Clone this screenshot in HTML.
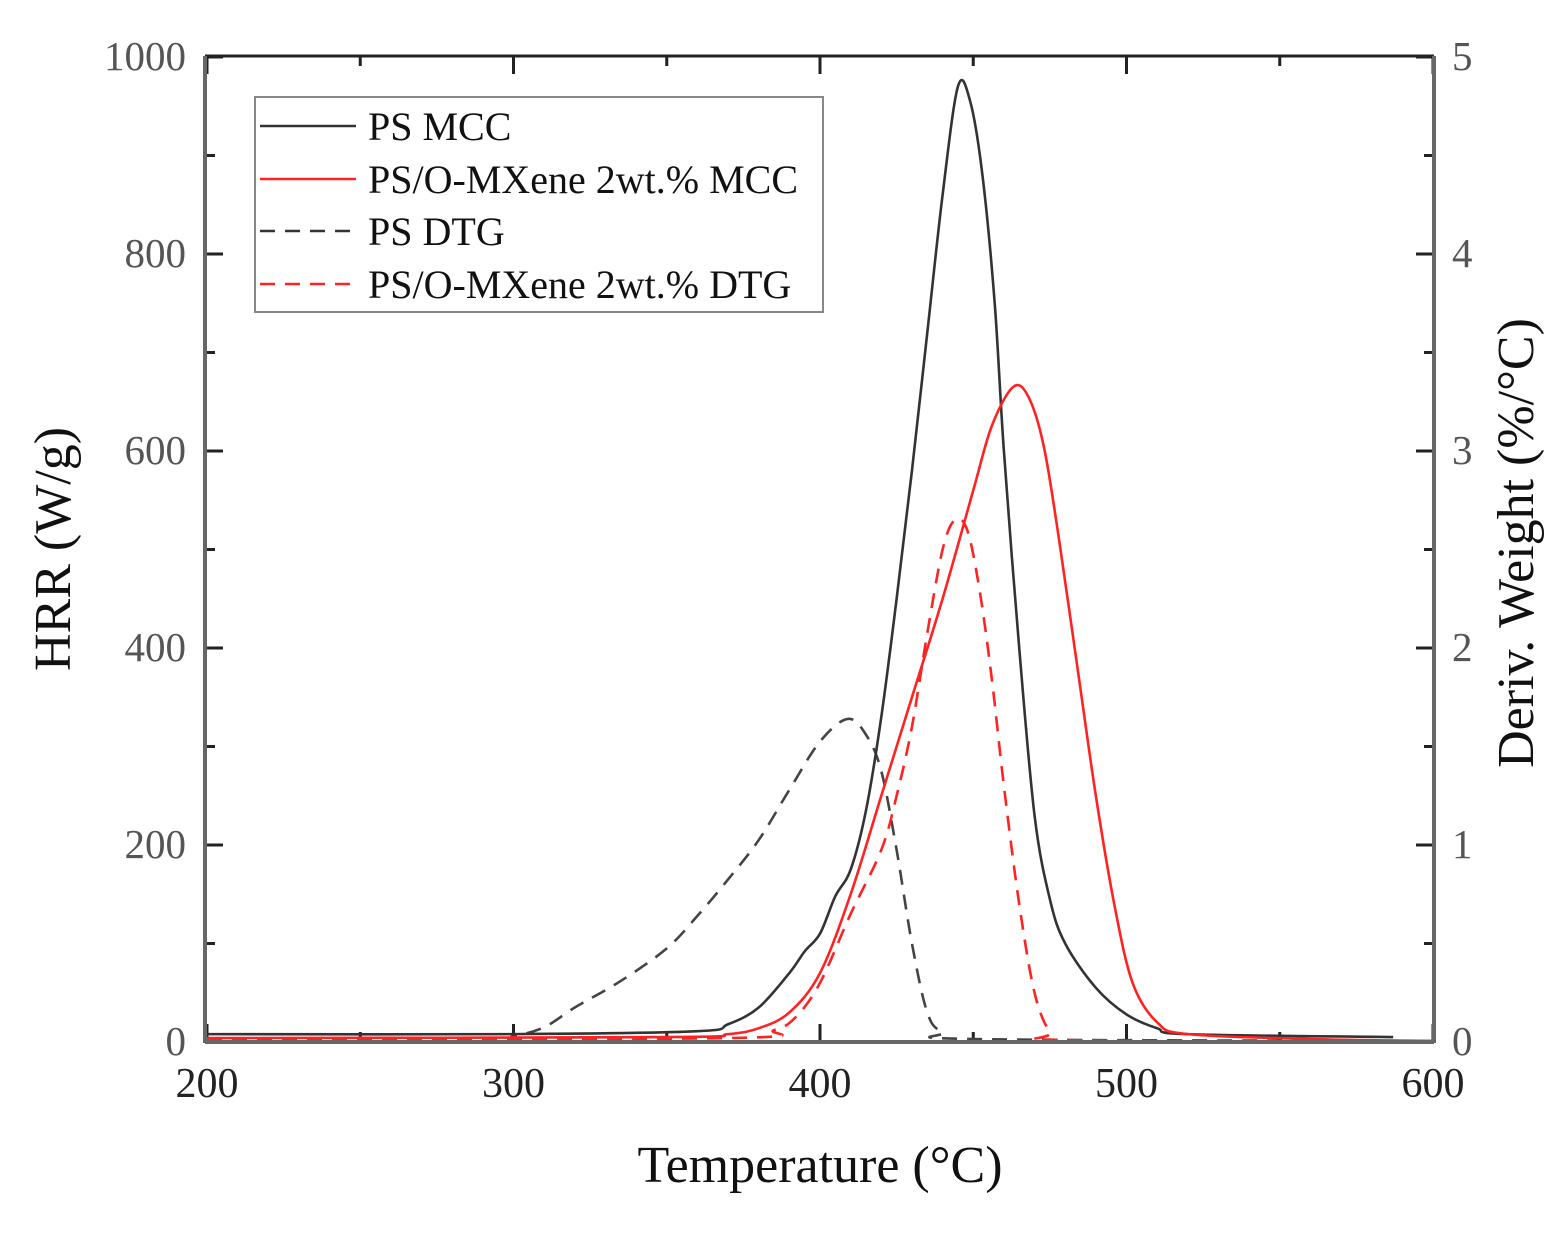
<!DOCTYPE html>
<html><head><meta charset="utf-8"><style>
html,body{margin:0;padding:0;background:#fff;}
svg{display:block;font-family:"Liberation Serif",serif;}
</style></head><body>
<svg id="s" width="1556" height="1234" viewBox="0 0 1556 1234" xmlns="http://www.w3.org/2000/svg">
<rect width="1556" height="1234" fill="#fff"/>
<g id="ticks" stroke="#222" stroke-width="3"></g>
<g id="curves" fill="none" stroke-width="2.6"></g>
<line x1="205" y1="56" x2="1434" y2="56" stroke="#222" stroke-width="3"/>
<line x1="205" y1="1042" x2="1434" y2="1042" stroke="#666" stroke-width="4"/>
<line x1="205" y1="56" x2="205" y2="1043" stroke="#666" stroke-width="4"/>
<line x1="1434" y1="56" x2="1434" y2="1043" stroke="#666" stroke-width="4"/>
<g font-size="41" fill="#555" id="labels"></g>
<text x="820" y="1182" font-size="52" text-anchor="middle" fill="#111">Temperature (°C)</text>
<text transform="translate(70,549) rotate(-90)" font-size="52" text-anchor="middle" fill="#111">HRR (W/g)</text>
<text transform="translate(1533,543) rotate(-90)" font-size="52" text-anchor="middle" fill="#111">Deriv. Weight (%/°C)</text>
<rect x="255" y="97" width="568" height="215" fill="#fff" stroke="#888" stroke-width="2"/>
<g font-size="40" fill="#111">
<line x1="260" y1="126" x2="356" y2="126" stroke="#333" stroke-width="2.6"/>
<text x="368" y="140">PS MCC</text>
<line x1="260" y1="179" x2="356" y2="179" stroke="#f22" stroke-width="2.6"/>
<text x="368" y="193">PS/O-MXene 2wt.% MCC</text>
<line x1="260" y1="231" x2="356" y2="231" stroke="#333" stroke-width="2.6" stroke-dasharray="15,10"/>
<text x="368" y="245">PS DTG</text>
<line x1="260" y1="284" x2="356" y2="284" stroke="#f22" stroke-width="2.6" stroke-dasharray="15,10"/>
<text x="368" y="298">PS/O-MXene 2wt.% DTG</text>
</g>
</svg>
<script>
const NS="http://www.w3.org/2000/svg";
const X=t=>207+(t-200)*3.065, Y=v=>1042-v*0.985;
function el(p,tag,a,txt){const e=document.createElementNS(NS,tag);for(const k in a)e.setAttribute(k,a[k]);if(txt!=null)e.textContent=txt;p.appendChild(e);return e;}
const tk=document.getElementById('ticks'),lb=document.getElementById('labels');
for(let t=200;t<=600;t+=50){const x=X(t),L=(t%100==0)?18:10;
 el(tk,'line',{x1:x,y1:1042,x2:x,y2:1042-L});el(tk,'line',{x1:x,y1:56,x2:x,y2:56+L});
 if(t%100==0)el(lb,'text',{x:x,y:1097,'text-anchor':'middle','font-size':42,fill:'#222'},t);}
for(let v=0;v<=1000;v+=100){const y=Y(v),L=(v%200==0)?18:10;
 el(tk,'line',{x1:205,y1:y,x2:205+L,y2:y});el(tk,'line',{x1:1434,y1:y,x2:1434-L,y2:y});
 if(v%200==0){el(lb,'text',{x:186,y:y+13,'text-anchor':'end'},v);el(lb,'text',{x:1452,y:y+13},v/200);}}
function path(pts){const P=pts.map(p=>[X(p[0]),Y(p[1])]);let d='M'+P[0][0]+','+P[0][1];
 for(let i=0;i<P.length-1;i++){const p0=P[Math.max(0,i-1)],p1=P[i],p2=P[i+1],p3=P[Math.min(P.length-1,i+2)];
 d+=' C'+(p1[0]+(p2[0]-p0[0])/6)+','+(p1[1]+(p2[1]-p0[1])/6)+' '+(p2[0]-(p3[0]-p1[0])/6)+','+(p2[1]-(p3[1]-p1[1])/6)+' '+p2[0]+','+p2[1];}return d;}
const cv=document.getElementById('curves');
const psm=[[200,8],[300,8],[360,11],[370,18],[380,35],[390,70],[395,92],[400,110],[405,148],[410,175],[415,235],[420,330],[425,450],[430,580],[435,720],[440,860],[445,970],[449,955],[453,880],[457,750],[460,600],[465,400],[470,230],[475,145],[480,100],[490,55],[500,28],[510,14],[520,8],[587,5]];
const rm=[[200,4],[350,5],[370,8],[380,14],[390,30],[400,70],[410,150],[420,250],[430,350],[440,450],[450,560],[456,625],[463,665],[468,655],[473,605],[478,510],[484,380],[490,250],[496,140],[502,60],[510,20],[520,8],[560,3],[600,1]];
const pd=[[200,2],[290,3],[300,6],[310,15],[320,35],[335,62],[350,95],[360,128],[370,165],[380,205],[390,256],[400,305],[409,328],[415,312],[420,275],[425,195],[430,100],[435,30],[440,10],[450,3],[600,1]];
const rd=[[200,2],[370,4],[385,12],[392,25],[400,60],[410,130],[420,195],[425,250],[430,320],[435,415],[440,500],[444,530],[448,520],[452,460],[456,370],[460,260],[465,140],[470,50],[475,10],[480,2],[600,0]];
el(cv,'path',{d:path(pd),stroke:'#444','stroke-dasharray':'15,10'});
el(cv,'path',{d:path(psm),stroke:'#333'});
el(cv,'path',{d:path(rd),stroke:'#f22','stroke-dasharray':'15,10'});
el(cv,'path',{d:path(rm),stroke:'#f22'});
</script>
</body></html>
